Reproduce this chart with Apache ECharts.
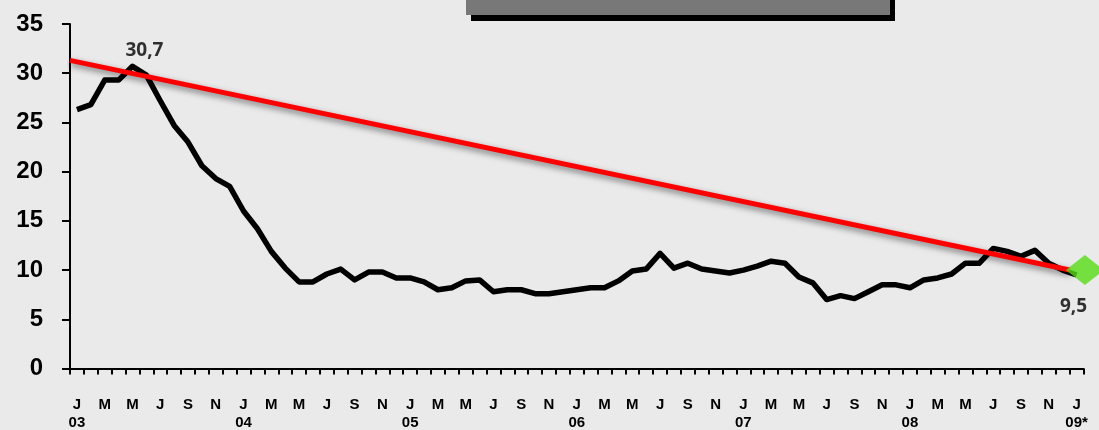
<!DOCTYPE html>
<html>
<head>
<meta charset="utf-8">
<script src="https://cdn.jsdelivr.net/npm/echarts@6/dist/echarts.min.js"></script>
<style>
  html, body { margin: 0; padding: 0; background: #eaeaea; }
  #chart { width: 1099px; height: 430px; }
</style>
</head>
<body>
<div id="chart"></div>
<script>
// Month initials and two-digit years used for the category labels
const monthLetters = ['J', 'F', 'M', 'A', 'M', 'J', 'J', 'A', 'S', 'O', 'N', 'D'];
const yearLabels = ['03', '04', '05', '06', '07', '08', '09*'];

// Monthly values, Jan 2003 .. Jan 2009
const values2003 = [26.3, 26.8, 29.3, 29.3, 30.7, 29.8, 27.2, 24.7, 23.0, 20.6, 19.3, 18.5];
const values2004 = [16.0, 14.2, 11.9, 10.2, 8.8, 8.8, 9.6, 10.1, 9.0, 9.8, 9.8, 9.2];
const values2005 = [9.2, 8.8, 8.0, 8.2, 8.9, 9.0, 7.8, 8.0, 8.0, 7.6, 7.6, 7.8];
const values2006 = [8.0, 8.2, 8.2, 8.9, 9.9, 10.1, 11.7, 10.2, 10.7, 10.1, 9.9, 9.7];
const values2007 = [10.0, 10.4, 10.9, 10.7, 9.3, 8.7, 7.0, 7.4, 7.1, 7.8, 8.5, 8.5];
const values2008 = [8.2, 9.0, 9.2, 9.6, 10.7, 10.7, 12.2, 11.9, 11.4, 12.0, 10.7, 10.0];
const values2009 = [9.5];

// Trend line end points (x in month units from the axis start) and target marker
const trendX = [0, 72];
const trendY = [31.3, 10.0];
const targetPoint = [73.1, 10.0];

// Y-axis scale
const yTicks = [0, 5, 10, 15, 20, 25, 30, 35];

const values = [].concat(values2003, values2004, values2005, values2006, values2007, values2008, values2009);
const categories = values.map((v, i) => {
  const m = monthLetters[i % 12];
  return i % 12 === 0 ? m + '\n' + yearLabels[i / 12] : m;
});

// Highlighted points: the peak and the latest value
let peakIdx = 0;
values.forEach((v, i) => { if (v > values[peakIdx]) peakIdx = i; });
const lastIdx = values.length - 1;
const fmt = v => String(v).replace('.', ',');

const chart = echarts.init(document.getElementById('chart'));
chart.setOption({
  backgroundColor: '#eaeaea',
  animation: false,
  graphic: [
    { type: 'rect', shape: { x: 471, y: 0, width: 424, height: 21 }, style: { fill: '#000' }, z: 10 },
    { type: 'rect', shape: { x: 466, y: 0, width: 424, height: 15 }, style: { fill: '#787878' }, z: 11 }
  ],
  grid: { left: 70, right: 15.5, top: 24, bottom: 61.5, containLabel: false, outerBoundsMode: 'none' },
  xAxis: [
    {
      type: 'category',
      data: categories,
      boundaryGap: true,
      axisLine: { lineStyle: { color: '#000', width: 2 } },
      axisTick: { show: true, interval: 0, length: 6, lineStyle: { color: '#000', width: 2 } },
      axisLabel: {
        interval: 1,
        margin: 27.5,
        color: '#000',
        fontFamily: 'Liberation Sans, Arial, sans-serif',
        fontWeight: 'bold',
        fontSize: 15,
        lineHeight: 18
      },
      splitLine: { show: false }
    },
    { type: 'value', min: 0, max: values.length, show: false }
  ],
  yAxis: {
    type: 'value',
    min: yTicks[0],
    max: yTicks[yTicks.length - 1],
    interval: 5,
    axisLine: { show: true, lineStyle: { color: '#000', width: 2 } },
    axisTick: { show: true, length: 8, lineStyle: { color: '#000', width: 2 } },
    axisLabel: {
      margin: 27,
      color: '#000',
      fontFamily: 'Liberation Sans, Arial, sans-serif',
      fontWeight: 'bold',
      fontSize: 24
    },
    splitLine: { show: false }
  },
  series: [
    {
      type: 'line',
      xAxisIndex: 0,
      data: values,
      showSymbol: false,
      lineStyle: { color: '#000', width: 5.5, join: 'round' },
      z: 2
    },
    {
      type: 'line',
      xAxisIndex: 1,
      data: [[trendX[0], trendY[0]], [trendX[1], trendY[1]]],
      showSymbol: false,
      lineStyle: {
        color: '#ff0000', width: 5,
        shadowColor: 'rgba(0,0,0,0.5)', shadowBlur: 6, shadowOffsetX: 1, shadowOffsetY: 3
      },
      z: 3
    },
    {
      type: 'scatter',
      xAxisIndex: 1,
      data: [targetPoint],
      symbol: 'diamond',
      symbolSize: [38, 30],
      itemStyle: { color: '#55dd14' },
      clip: false,
      z: 4
    },
    {
      type: 'scatter',
      xAxisIndex: 0,
      data: [
        { value: [peakIdx, values[peakIdx]], label: { position: 'top', distance: 6, offset: [12, 0] } },
        { value: [lastIdx, values[lastIdx]], label: { position: 'bottom', distance: 22, offset: [-3, 0] } }
      ],
      symbolSize: 0,
      clip: false,
      label: {
        show: true,
        formatter: p => fmt(p.value[1]),
        color: '#000',
        fontFamily: 'Open Sans, sans-serif',
        fontWeight: 'bold',
        fontSize: 19
      },
      z: 5
    }
  ]
});
</script>
</body>
</html>
